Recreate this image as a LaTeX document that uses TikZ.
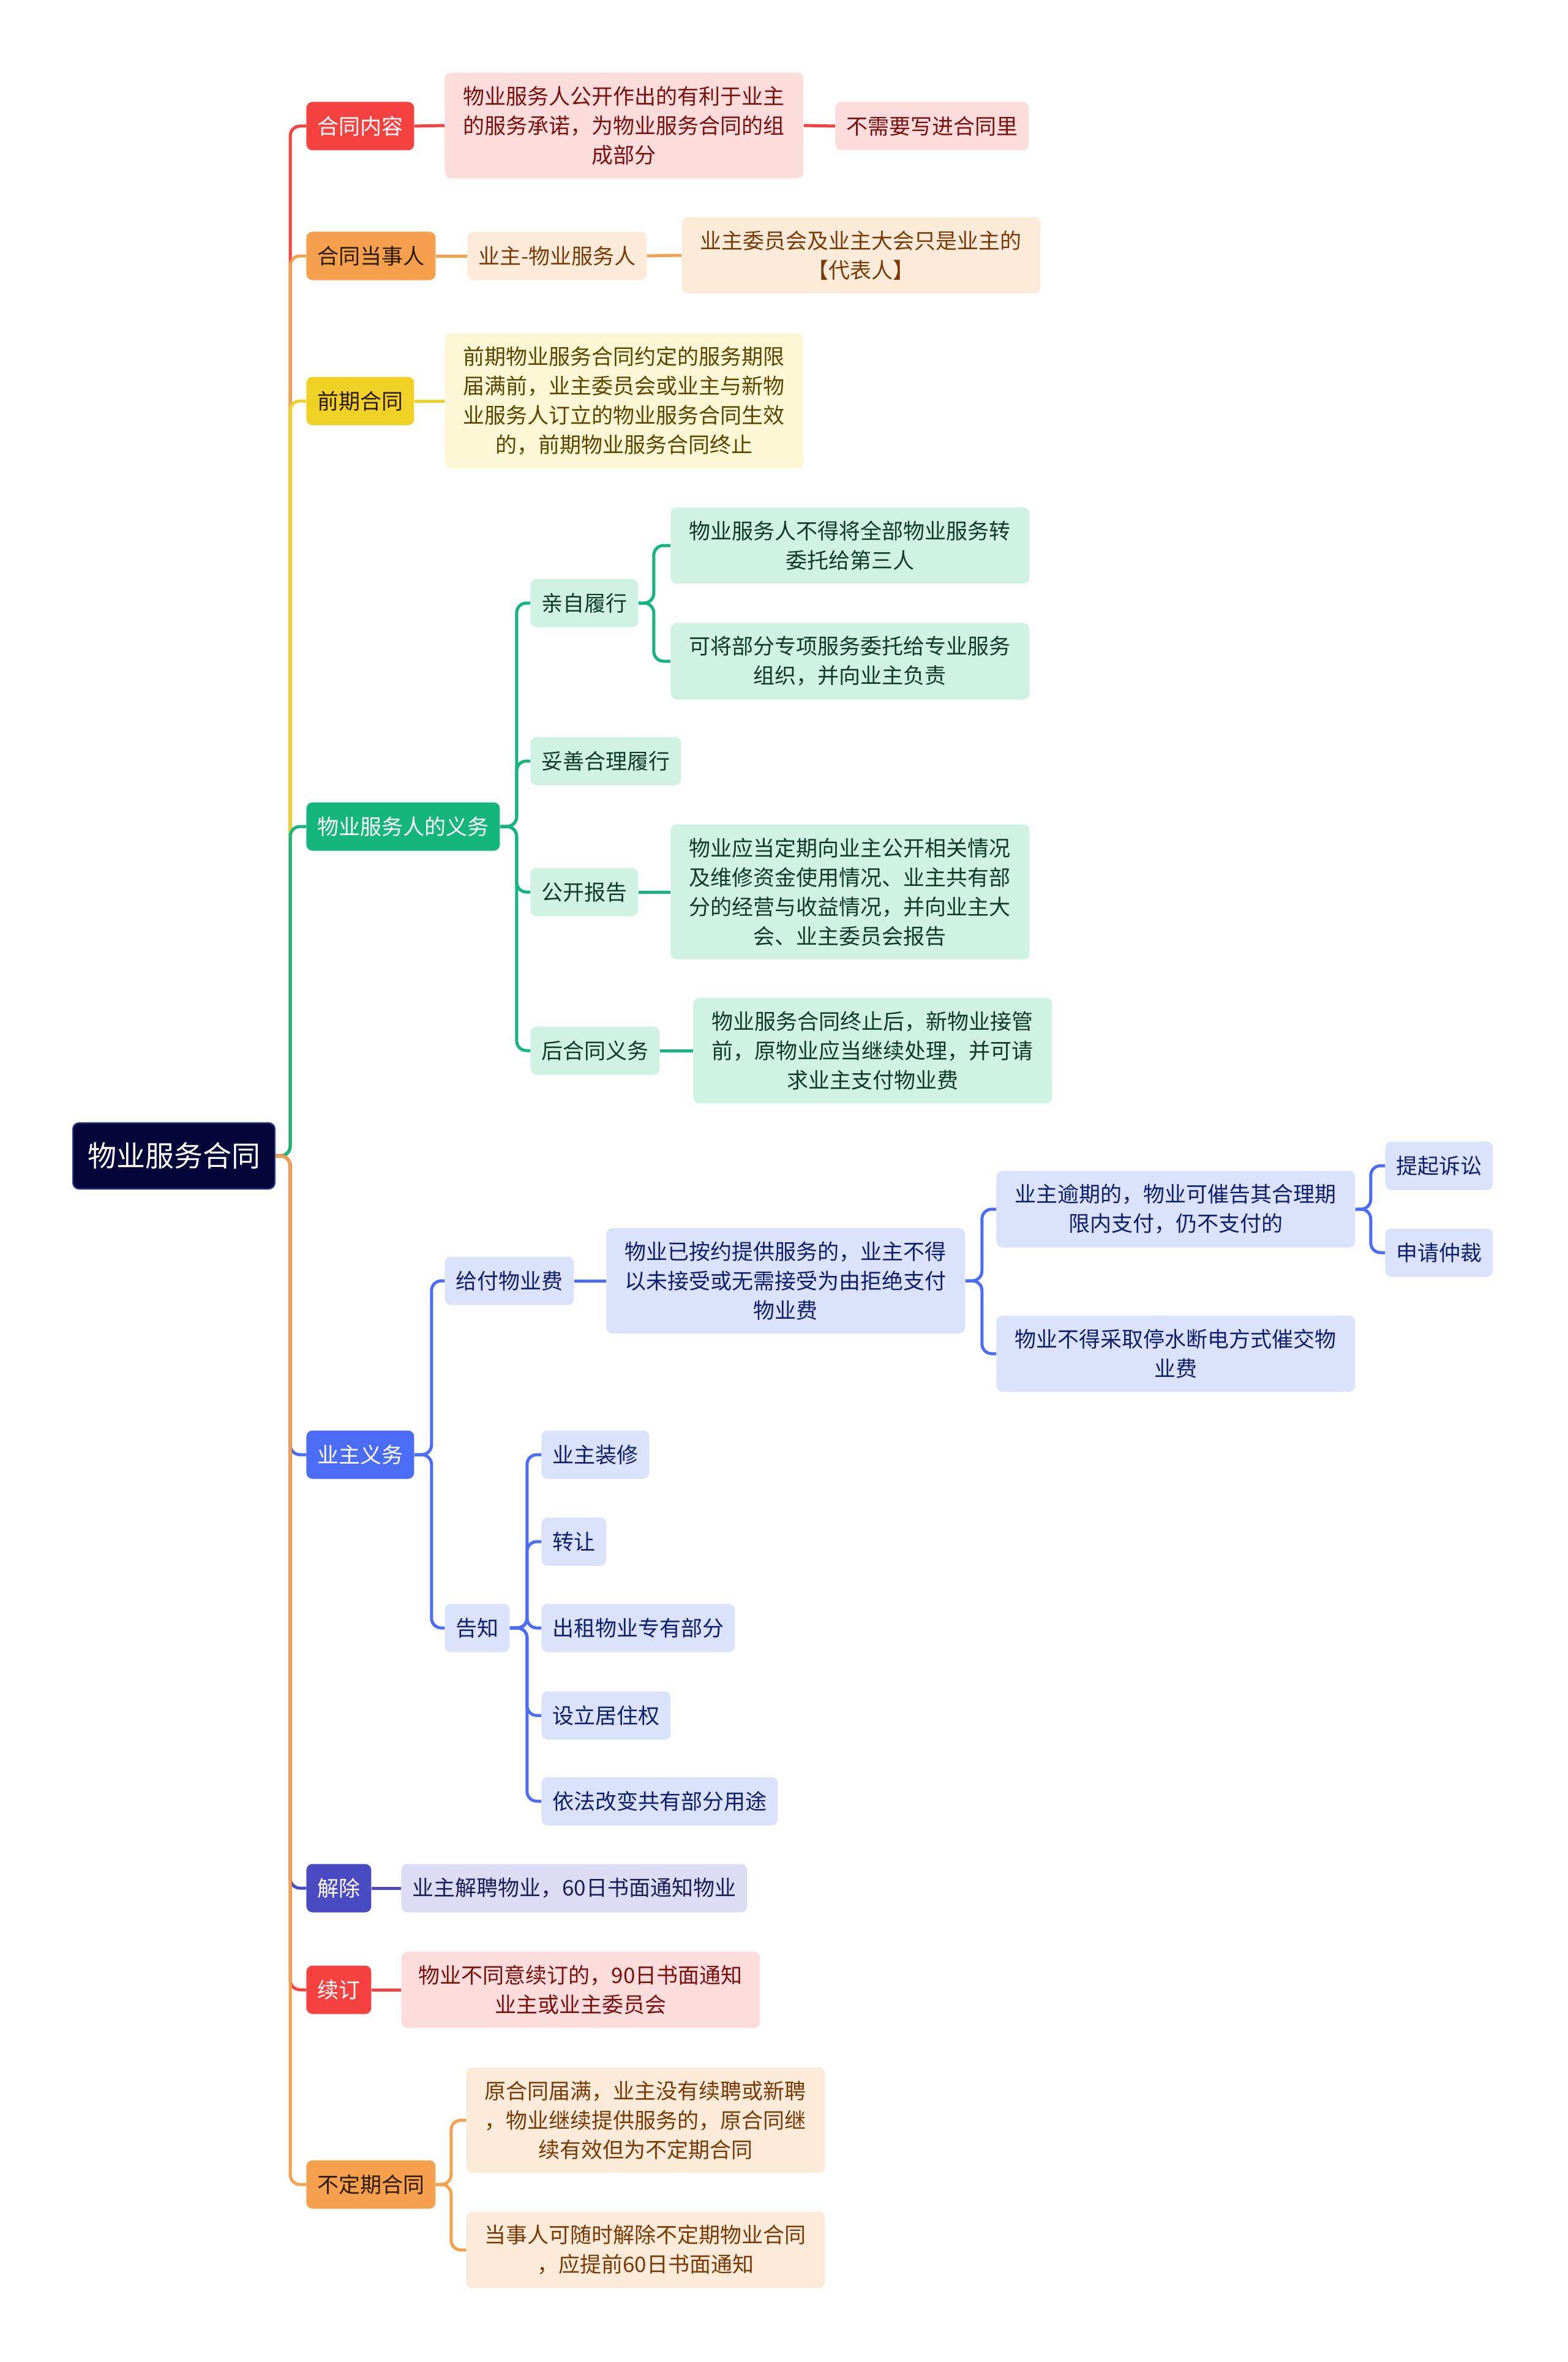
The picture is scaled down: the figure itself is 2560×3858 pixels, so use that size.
\documentclass[tikz,border=0pt]{standalone}
\usepackage{fontspec}
\setmainfont{Noto Sans CJK SC}

\definecolor{cred}{HTML}{F5413F}
\definecolor{corange}{HTML}{F4A04D}
\definecolor{cyellow}{HTML}{F0D227}
\definecolor{cgreen}{HTML}{14B67B}
\definecolor{cblue}{HTML}{4A6CF6}
\definecolor{cindigo}{HTML}{4A4AC2}
\definecolor{croot}{HTML}{05053A}
\definecolor{lred}{HTML}{FDDCDC}
\definecolor{lorange}{HTML}{FDEBDA}
\definecolor{lyellow}{HTML}{FDF7D5}
\definecolor{lgreen}{HTML}{CFF2E3}
\definecolor{lblue}{HTML}{DAE2FC}
\definecolor{lindigo}{HTML}{DCDCF4}
\definecolor{tred}{HTML}{7A1010}
\definecolor{torange}{HTML}{7A3A08}
\definecolor{tyellow}{HTML}{5A4600}
\definecolor{tgreen}{HTML}{103A2A}
\definecolor{tblue}{HTML}{111E6E}
\definecolor{tindigo}{HTML}{1D1D58}
\definecolor{tdark}{HTML}{2B1A00}

\tikzset{
  card/.style={rounded corners=5pt, inner xsep=9pt, inner ysep=11pt, anchor=west,
    align=center, minimum height=39.5pt, font=\fontsize{17.5pt}{24pt}\selectfont},
  mainbox/.style 2 args={card, fill=#1, text=#2},
  subbox/.style 2 args={card, fill=#1, text=#2},
  wide/.style={text width=275pt},
  link/.style={line width=2.5pt, rounded corners=8pt},
}

\begin{document}
\begin{tikzpicture}[x=0.5pt,y=-0.5pt]
\useasboundingbox (0,0) rectangle (2560,3858);

% root
\node[card, fill=croot, draw=cblue!60!black, line width=1pt, text=white,
  minimum width=165pt, minimum height=54pt,
  font=\fontsize{23.5pt}{28pt}\selectfont] (root) at (118,1888) {物业服务合同};

% first level
\node[mainbox={cred}{white}] (neirong) at (500,206) {合同内容};
\node[mainbox={corange}{tdark}] (dangshi) at (500,418) {合同当事人};
\node[mainbox={cyellow}{tdark}] (qianqi) at (500,655) {前期合同};
\node[mainbox={cgreen}{white}] (yiwu) at (500,1350) {物业服务人的义务};
\node[mainbox={cblue}{white}] (yezhu) at (500,2376) {业主义务};
\node[mainbox={cindigo}{white}] (jiechu) at (500,3084) {解除};
\node[mainbox={cred}{white}] (xuding) at (500,3250) {续订};
\node[mainbox={corange}{tdark}] (buding) at (500,3568) {不定期合同};

% 合同内容
\node[subbox={lred}{tred}, wide] (neirongA) at (726,205)
  {物业服务人公开作出的有利于业主\\的服务承诺，为物业服务合同的组\\成部分};
\node[subbox={lred}{tred}] (neirongB) at (1364,206) {不需要写进合同里};

% 合同当事人
\node[subbox={lorange}{torange}] (dangshiA) at (763,418) {业主-物业服务人};
\node[subbox={lorange}{torange}, wide] (dangshiB) at (1113,417)
  {业主委员会及业主大会只是业主的\\【代表人】};

% 前期合同
\node[subbox={lyellow}{tyellow}, wide] (qianqiA) at (726,655)
  {前期物业服务合同约定的服务期限\\届满前，业主委员会或业主与新物\\业服务人订立的物业服务合同生效\\的，前期物业服务合同终止};

% 物业服务人的义务
\node[subbox={lgreen}{tgreen}] (qinzi) at (866,985) {亲自履行};
\node[subbox={lgreen}{tgreen}, wide] (qinziA) at (1095,891)
  {物业服务人不得将全部物业服务转\\委托给第三人};
\node[subbox={lgreen}{tgreen}, wide] (qinziB) at (1095,1080)
  {可将部分专项服务委托给专业服务\\组织，并向业主负责};
\node[subbox={lgreen}{tgreen}] (tuoshan) at (866,1243) {妥善合理履行};
\node[subbox={lgreen}{tgreen}] (gongkai) at (866,1457) {公开报告};
\node[subbox={lgreen}{tgreen}, wide] (gongkaiA) at (1095,1457)
  {物业应当定期向业主公开相关情况\\及维修资金使用情况、业主共有部\\分的经营与收益情况，并向业主大\\会、业主委员会报告};
\node[subbox={lgreen}{tgreen}] (houhe) at (866,1716) {后合同义务};
\node[subbox={lgreen}{tgreen}, wide] (houheA) at (1132,1716)
  {物业服务合同终止后，新物业接管\\前，原物业应当继续处理，并可请\\求业主支付物业费};

% 业主义务
\node[subbox={lblue}{tblue}] (jiaofu) at (726,2092) {给付物业费};
\node[subbox={lblue}{tblue}, wide] (jiaofuA) at (990,2092)
  {物业已按约提供服务的，业主不得\\以未接受或无需接受为由拒绝支付\\物业费};
\node[subbox={lblue}{tblue}, wide] (yuqi) at (1627,1975)
  {业主逾期的，物业可催告其合理期\\限内支付，仍不支付的};
\node[subbox={lblue}{tblue}] (susong) at (2262,1904) {提起诉讼};
\node[subbox={lblue}{tblue}] (zhongcai) at (2262,2046) {申请仲裁};
\node[subbox={lblue}{tblue}, wide] (tingshui) at (1627,2211)
  {物业不得采取停水断电方式催交物\\业费};
\node[subbox={lblue}{tblue}] (gaozhi) at (726,2659) {告知};
\node[subbox={lblue}{tblue}] (zhuangxiu) at (884,2376) {业主装修};
\node[subbox={lblue}{tblue}] (zhuanrang) at (884,2518) {转让};
\node[subbox={lblue}{tblue}] (chuzu) at (884,2659) {出租物业专有部分};
\node[subbox={lblue}{tblue}] (juzhu) at (884,2802) {设立居住权};
\node[subbox={lblue}{tblue}] (gaibian) at (884,2942) {依法改变共有部分用途};

% 解除 / 续订
\node[subbox={lindigo}{tindigo}] (jiechuA) at (655,3084) {业主解聘物业，60日书面通知物业};
\node[subbox={lred}{tred}, wide] (xudingA) at (655,3250)
  {物业不同意续订的，90日书面通知\\业主或业主委员会};

% 不定期合同
\node[subbox={lorange}{torange}, wide] (budingA) at (761,3463)
  {原合同届满，业主没有续聘或新聘\\，物业继续提供服务的，原合同继\\续有效但为不定期合同};
\node[subbox={lorange}{torange}, wide] (budingB) at (761,3675)
  {当事人可随时解除不定期物业合同\\，应提前60日书面通知};

% connectors from the root, drawn top to bottom
\draw[link, cred] (root.east) -- ++(24,0) |- (neirong.west);
\draw[link, corange] (root.east) -- ++(24,0) |- (dangshi.west);
\draw[link, cyellow] (root.east) -- ++(24,0) |- (qianqi.west);
\draw[link, cgreen] (root.east) -- ++(24,0) |- (yiwu.west);
\draw[link, cblue] (root.east) -- ++(24,0) |- (yezhu.west);
\draw[link, cindigo] (root.east) -- ++(24,0) |- (jiechu.west);
\draw[link, cred] (root.east) -- ++(24,0) |- (xuding.west);
\draw[link, corange] (root.east) -- ++(24,0) |- (buding.west);

% branch connectors
\draw[link, cred] (neirong.east) -- (neirongA.west);
\draw[link, cred] (neirongA.east) -- (neirongB.west);
\draw[link, corange] (dangshi.east) -- (dangshiA.west);
\draw[link, corange] (dangshiA.east) -- (dangshiB.west);
\draw[link, cyellow] (qianqi.east) -- (qianqiA.west);

\foreach \kid in {qinzi,tuoshan,gongkai,houhe}
  \draw[link, cgreen] (yiwu.east) -- ++(27,0) |- (\kid.west);
\foreach \kid in {qinziA,qinziB}
  \draw[link, cgreen] (qinzi.east) -- ++(25,0) |- (\kid.west);
\draw[link, cgreen] (gongkai.east) -- (gongkaiA.west);
\draw[link, cgreen] (houhe.east) -- (houheA.west);

\foreach \kid in {jiaofu,gaozhi}
  \draw[link, cblue] (yezhu.east) -- ++(28,0) |- (\kid.west);
\draw[link, cblue] (jiaofu.east) -- (jiaofuA.west);
\foreach \kid in {yuqi,tingshui}
  \draw[link, cblue] (jiaofuA.east) -- ++(27,0) |- (\kid.west);
\foreach \kid in {susong,zhongcai}
  \draw[link, cblue] (yuqi.east) -- ++(25,0) |- (\kid.west);
\foreach \kid in {zhuangxiu,zhuanrang,chuzu,juzhu,gaibian}
  \draw[link, cblue] (gaozhi.east) -- ++(28,0) |- (\kid.west);

\draw[link, cindigo] (jiechu.east) -- (jiechuA.west);
\draw[link, cred] (xuding.east) -- (xudingA.west);
\foreach \kid in {budingA,budingB}
  \draw[link, corange] (buding.east) -- ++(25,0) |- (\kid.west);
\end{tikzpicture}
\end{document}
